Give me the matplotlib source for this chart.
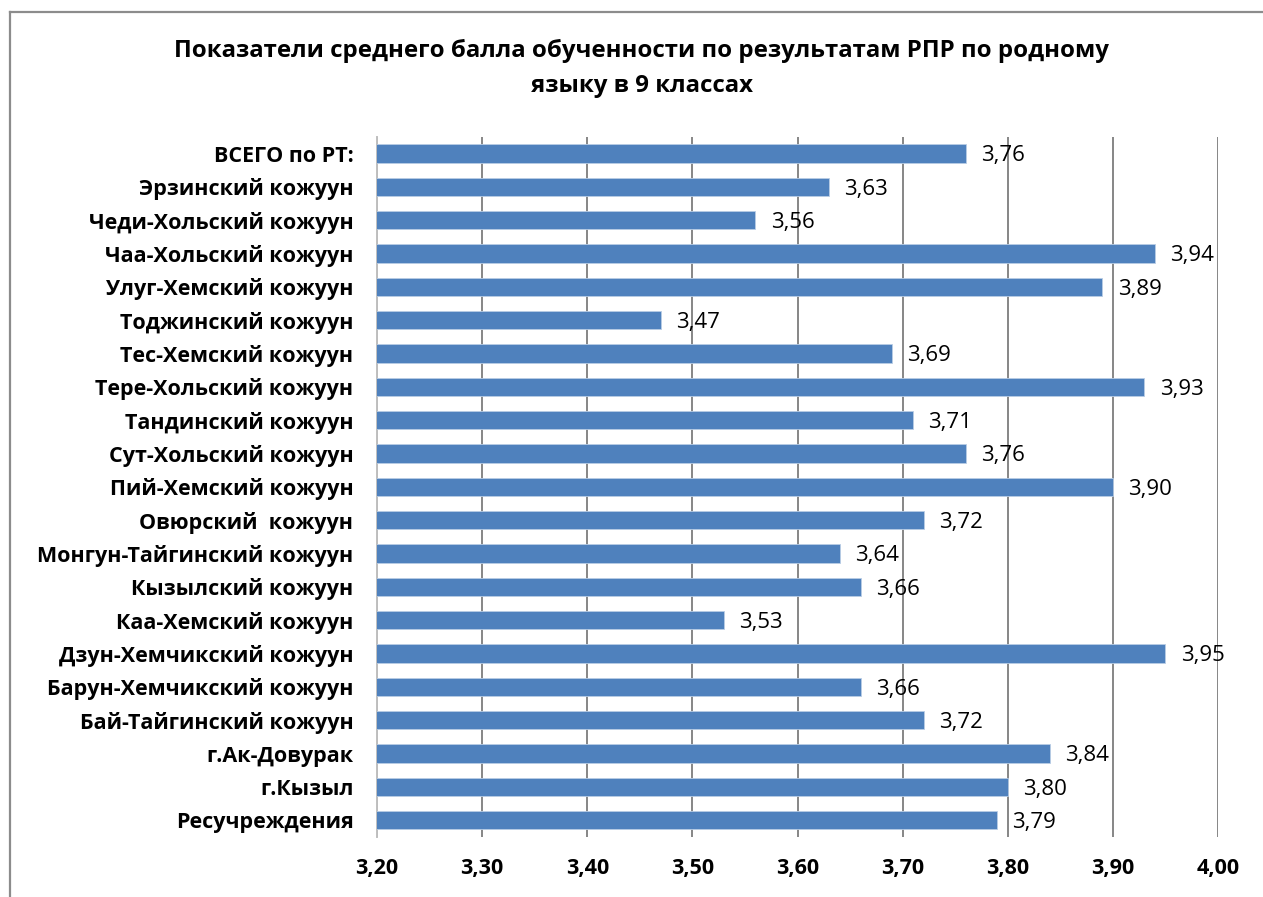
import matplotlib as mpl
import matplotlib.pyplot as plt
from matplotlib.lines import Line2D

regions = [
    "ВСЕГО по РТ:", "Эрзинский кожуун", "Чеди-Хольский кожуун", "Чаа-Хольский кожуун",
    "Улуг-Хемский кожуун", "Тоджинский кожуун", "Тес-Хемский кожуун", "Тере-Хольский кожуун",
    "Тандинский кожуун", "Сут-Хольский кожуун", "Пий-Хемский кожуун", "Овюрский  кожуун",
    "Монгун-Тайгинский кожуун", "Кызылский кожуун", "Каа-Хемский кожуун",
    "Дзун-Хемчикский кожуун", "Барун-Хемчикский кожуун", "Бай-Тайгинский кожуун",
    "г.Ак-Довурак", "г.Кызыл", "Ресучреждения",
]
scores = [3.76, 3.63, 3.56, 3.94, 3.89, 3.47, 3.69, 3.93, 3.71, 3.76, 3.90,
          3.72, 3.64, 3.66, 3.53, 3.95, 3.66, 3.72, 3.84, 3.80, 3.79]
xticks = [3.20, 3.30, 3.40, 3.50, 3.60, 3.70, 3.80, 3.90, 4.00]

BAR = "#4F81BD"
GRID = "#868686"

mpl.rcParams.update({"font.family": ["Open Sans", "DejaVu Sans"]})

fig = plt.figure(figsize=(12.63, 8.97), dpi=100)
ax = fig.add_axes([0.2985, 0.0669, 0.6659, 0.7804])

ypos = list(range(len(regions)))
ax.barh(ypos, scores, height=0.55, color=BAR, edgecolor="#B9CDE5",
        linewidth=0.6, zorder=3)
ax.set_xlim(3.2, 4.0)
ax.set_ylim(len(regions) - 0.5, -0.5)
ax.set_yticks(ypos)
ax.set_yticklabels(regions, fontsize=15.5, fontweight="bold")
ax.set_xticks(xticks)
ax.set_xticklabels([f"{t:.2f}".replace(".", ",") for t in xticks],
                   fontsize=15.5, fontweight="bold")
ax.tick_params(axis="y", length=0, pad=17)
ax.tick_params(axis="x", length=0, pad=15)
ax.grid(axis="x", color=GRID, linewidth=1.4, zorder=0)
for side in ("top", "right", "bottom"):
    ax.spines[side].set_visible(False)
ax.spines["left"].set_color("#BFBFBF")
ax.spines["left"].set_linewidth(1.4)

# value labels just right of each bar
for y, v in zip(ypos, scores):
    ax.annotate(f"{v:.2f}".replace(".", ","), (v, y), xytext=(11, -1.5),
                textcoords="offset points", va="center", ha="left",
                fontsize=16, zorder=4)

fig.text(0.508, 0.943, "Показатели среднего балла обученности по результатам РПР по родному",
         ha="center", va="center", fontsize=17.3, fontweight="bold")
fig.text(0.508, 0.904, "языку в 9 классах",
         ha="center", va="center", fontsize=17.3, fontweight="bold")

# chart area frame (cropped at right and bottom)
fig.add_artist(Line2D([10 / 1263, 10 / 1263], [0, 1 - 12 / 897],
                      transform=fig.transFigure, color="#8C8C8C", linewidth=1.6))
fig.add_artist(Line2D([10 / 1263, 1], [1 - 12 / 897, 1 - 12 / 897],
                      transform=fig.transFigure, color="#8C8C8C", linewidth=1.6))

fig.savefig("out.png", dpi=100)
